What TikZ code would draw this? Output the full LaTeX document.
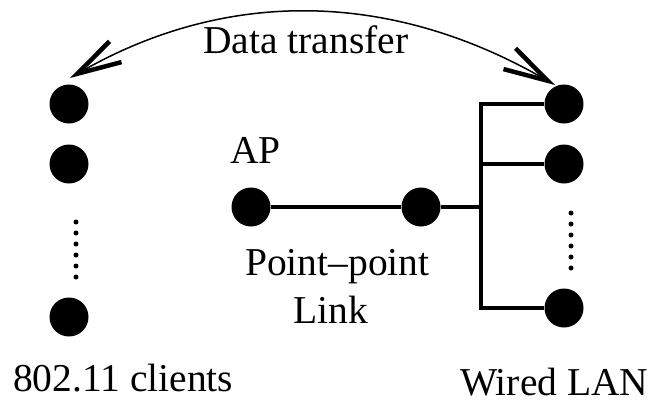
\documentclass[tikz,border=0pt]{standalone}
\usepackage{fontspec}
\setmainfont{Liberation Serif}
\usetikzlibrary{arrows.meta}
\begin{document}
\begin{tikzpicture}[x=1pt,y=-1pt,
  dot/.style={circle,fill=black,draw=none,minimum size=39pt,inner sep=0pt},
  wire/.style={line width=4pt},
  dotline/.style={line width=5pt,line cap=round,dash pattern=on 0pt off 11pt},
  lbl/.style={anchor=base west,inner sep=0pt,font=\fontsize{39.5}{44}\selectfont},
  arc/.style={line width=1.5pt,{Straight Barb[length=44pt,width=24pt,line width=4.5pt]}-{Straight Barb[length=44pt,width=24pt,line width=4.5pt]}}]
\useasboundingbox (0,0) rectangle (656,402);
% left nodes
\node[dot] (l1) at (69,104) {};
\node[dot] (l2) at (69,164) {};
\node[dot] (l3) at (69,317) {};
% right nodes
\node[dot] (r1) at (564,104) {};
\node[dot] (r2) at (564,164) {};
\node[dot] (r3) at (564,308) {};
% AP and link
\node[dot] (ap) at (251,207) {};
\node[dot] (pp) at (421,207) {};
% bus coordinates
\coordinate (bt) at (481,104);
\coordinate (bm) at (481,164);
\coordinate (bj) at (481,207);
\coordinate (bb) at (481,308);
\draw[wire] (r1) -- (bt) -- (bb) -- (r3);
\draw[wire] (bm) -- (r2);
\draw[wire] (ap) -- (pp) -- (bj);
% dotted ellipses
\coordinate (ld1) at (76,222);
\coordinate (ld2) at (76,277.5);
\coordinate (rd1) at (571,213);
\coordinate (rd2) at (571,268.5);
\draw[dotline] (ld1) -- (ld2);
\draw[dotline] (rd1) -- (rd2);
% data transfer arc
\coordinate (aL) at (70,78);
\coordinate (aR) at (555,85);
\draw[arc] (aL) .. controls (224,-11) and (389,-11) .. (aR);
% labels
\node[lbl] (tdt) at (203,53) {Data transfer};
\node[lbl] (tap) at (230,163) {AP};
\node[lbl] (tpp) at (245,275) {Point–point};
\node[lbl] (tlk) at (293,323) {Link};
\node[lbl] (tcl) at (13,391) {802.11 clients};
\node[lbl] (twl) at (460,395) {Wired LAN};
\end{tikzpicture}
\end{document}
